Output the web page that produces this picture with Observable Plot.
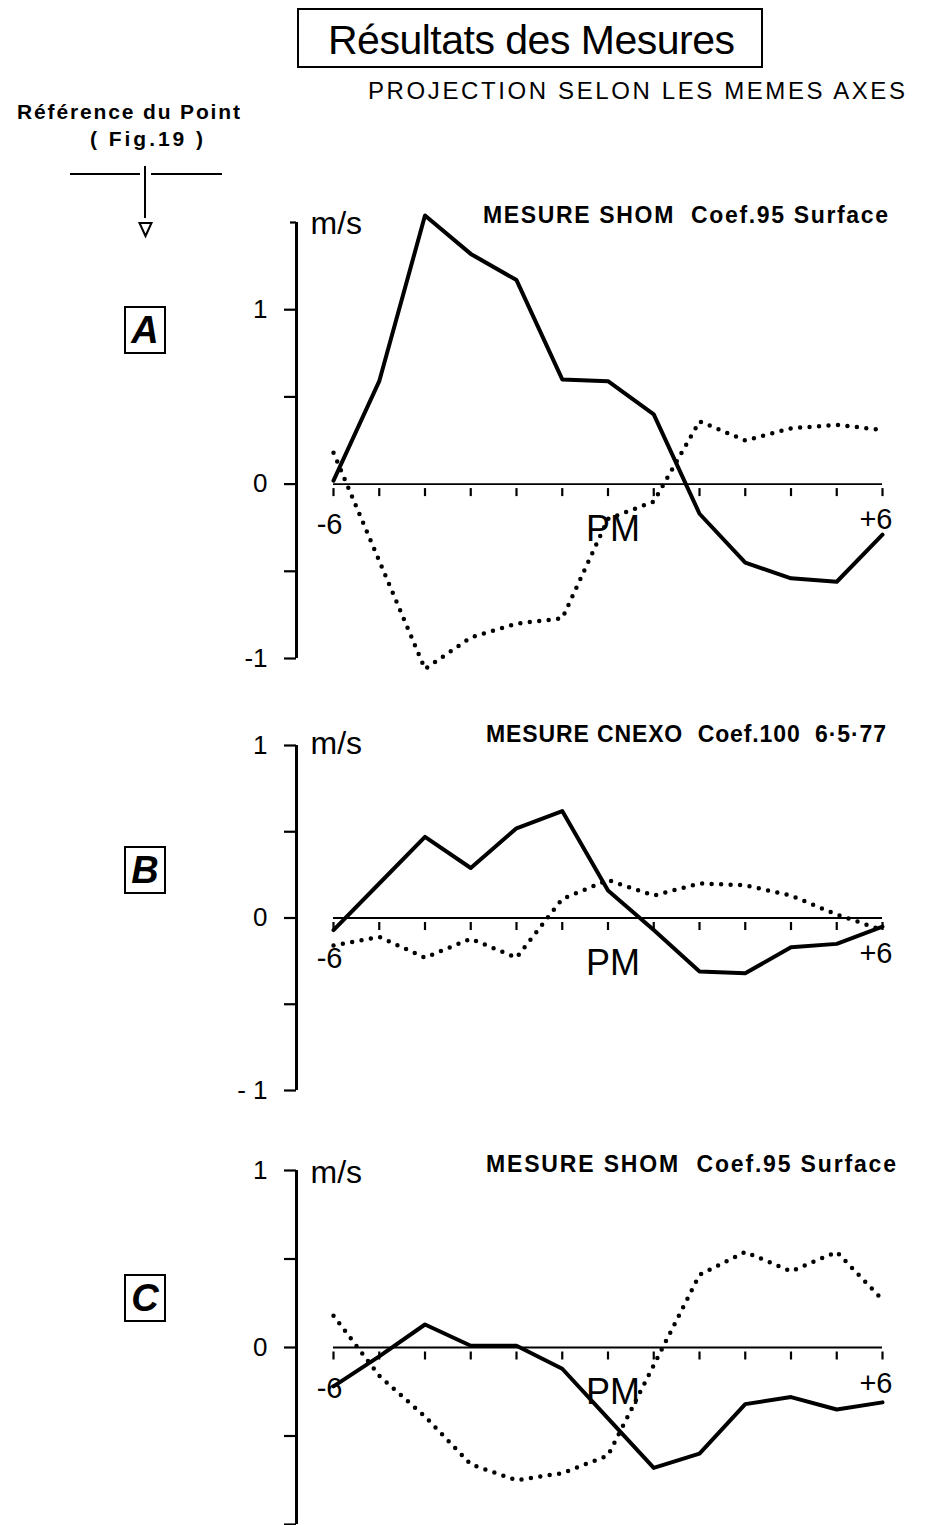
<!DOCTYPE html>
<html><head><meta charset="utf-8">
<script src="https://cdn.jsdelivr.net/npm/d3@7"></script>
<script src="https://cdn.jsdelivr.net/npm/@observablehq/plot@0.6"></script>
<style>
body{margin:0;background:#fff;}
#page{position:relative;width:925px;height:1525px;overflow:hidden;background:#fff;font-family:"Liberation Sans",Arial,sans-serif;color:#000;}
.t{position:absolute;white-space:pre;}
.panel{position:absolute;left:0;}
.lbl{position:absolute;border:2.5px solid #000;display:flex;align-items:center;justify-content:center;font-weight:bold;font-style:italic;font-size:38px;box-sizing:border-box;}
</style></head><body><div id="page"></div>
<script>
// ---- data (hours relative to high water, m/s) ----
const hours = [-6, -5, -4, -3, -2, -1, 0, 1, 2, 3, 4, 5, 6];
const aSolid  = [0.02, 0.59, 1.54, 1.32, 1.17, 0.60, 0.59, 0.40, -0.17, -0.45, -0.54, -0.56, -0.29];
const aDotted = [0.18, -0.44, -1.06, -0.88, -0.80, -0.77, -0.20, -0.10, 0.36, 0.25, 0.32, 0.34, 0.31];
const bSolid  = [-0.07, 0.20, 0.47, 0.29, 0.52, 0.62, 0.16, -0.07, -0.31, -0.32, -0.17, -0.15, -0.05];
const bDotted = [-0.16, -0.11, -0.23, -0.12, -0.23, 0.11, 0.22, 0.13, 0.20, 0.19, 0.13, 0.02, -0.07];
const cSolid  = [-0.22, -0.05, 0.13, 0.01, 0.01, -0.12, -0.40, -0.68, -0.60, -0.32, -0.28, -0.35, -0.31];
const cDotted = [0.18, -0.16, -0.39, -0.66, -0.75, -0.71, -0.61, -0.10, 0.41, 0.54, 0.43, 0.54, 0.27];

const yTicks = [-1, -0.5, 0, 0.5, 1];
const aYLabels = ["-1", "", "0", "", "1"];
const bYLabels = ["- 1", "", "0", "", "1"];
const cYLabels = ["", "", "0", "", "1"];
const xTickLabels = [{h: -6, label: "-6"}, {h: 0, label: "PM"}, {h: 6, label: "+6"}];

const captions = {
  A: "MESURE SHOM  Coef.95 Surface",
  B: "MESURE CNEXO  Coef.100  6·5·77",
  C: "MESURE SHOM  Coef.95 Surface"
};

const page = document.getElementById("page");

function txt(s, o) {
  const d = document.createElement("div");
  d.className = "t";
  d.textContent = s;
  d.style.fontSize = o.fs + "px";
  d.style.lineHeight = o.fs + "px";
  d.style.fontWeight = o.weight || "normal";
  if (o.fam) d.style.fontFamily = o.fam;
  d.style.top = (o.base - 0.8465 * o.fs) + "px";
  d.style.left = "0px";
  page.appendChild(d);
  let w = d.getBoundingClientRect().width;
  if (o.w) {
    const n = [...s].length;
    const ls = (o.w - w) / (n - 1);
    d.style.letterSpacing = ls + "px";
    w = o.w;
  }
  if (o.x != null) d.style.left = o.x + "px";
  else if (o.right != null) d.style.left = (o.right - w) + "px";
  else if (o.center != null) d.style.left = (o.center - w / 2) + "px";
  return d;
}

// Title box
const box = document.createElement("div");
box.style.cssText = "position:absolute;left:297px;top:8px;width:466px;height:60px;border:2px solid #000;box-sizing:border-box;";
page.appendChild(box);
txt("Résultats des Mesures", {x: 328, base: 55, fs: 41, w: 407});
txt("PROJECTION SELON LES MEMES AXES", {x: 368, base: 99, fs: 24, w: 537});
txt("Référence du Point", {x: 17, base: 119, fs: 21, weight: "bold", w: 223});
txt("( Fig.19 )", {x: 90, base: 146, fs: 21, weight: "bold", w: 113});

// reference arrow (decoration)
const ns = "http://www.w3.org/2000/svg";
const deco = document.createElementNS(ns, "svg");
deco.setAttribute("width", 260); deco.setAttribute("height", 260);
deco.style.cssText = "position:absolute;left:0;top:0;";
deco.innerHTML = '<g stroke="#000" fill="none" stroke-width="2">' +
  '<line x1="70" y1="174" x2="140" y2="174"/><line x1="151" y1="174" x2="222" y2="174"/>' +
  '<line x1="145" y1="166" x2="145" y2="218"/>' +
  '<polygon points="139.5,223 151.5,223 145.5,236" stroke-width="2"/></g>';
page.appendChild(deco);

const tickSym = {draw(ctx) { ctx.moveTo(0, -4); ctx.lineTo(0, 4); }};

function panel(cfg) {
  const data = hours.map((h, i) => ({h, solid: cfg.solid[i], dotted: cfg.dotted[i]}));
  const marks = [
    Plot.ruleX([hours[0]], {x: d => d, y1: cfg.yDomain[0], y2: cfg.yDomain[1], dx: -37, strokeWidth: 3}),
    Plot.axisY({ticks: yTicks, tickSize: 12, tickPadding: 17, dx: -37, strokeWidth: 2.2,
      tickFormat: d => cfg.yLabels[yTicks.indexOf(d)], fontSize: 26, label: null}),
    Plot.ruleY([0], {x1: hours[0], x2: hours[hours.length - 1], strokeWidth: 1.8}),
    Plot.dot(hours, {x: d => d, y: 0, symbol: tickSym, stroke: "black", strokeWidth: 2.2, fill: "none", dy: 8}),
    Plot.line(data, {x: "h", y: "dotted", stroke: "black", strokeWidth: 4.5, strokeDasharray: "0 9.5", strokeLinecap: "round"}),
    Plot.line(data, {x: "h", y: "solid", stroke: "black", strokeWidth: 4, strokeLinejoin: "round"}),
    Plot.text(xTickLabels.filter(d => d.h < 0), {x: "h", y: 0, text: "label", textAnchor: "end", dx: 9, dy: 41, fontSize: 29, lineAnchor: "middle"}),
    Plot.text(xTickLabels.filter(d => d.h > 0), {x: "h", y: 0, text: "label", textAnchor: "end", dx: 10, dy: 36, fontSize: 29, lineAnchor: "middle"}),
    Plot.text(xTickLabels.filter(d => d.h === 0), {x: "h", y: 0, text: "label", textAnchor: "middle", dx: 5, dy: 45, fontSize: 36, lineAnchor: "middle"}),
    Plot.text(["m/s"], {frameAnchor: "top-left", text: d => d, textAnchor: "start", lineAnchor: "bottom", dx: -23, dy: cfg.msDy, fontSize: 32})
  ];
  if (cfg.topTick != null) {
    marks.push(Plot.axisY({ticks: [cfg.topTick], tickSize: 6, dx: -37, strokeWidth: 2.2, tickFormat: () => "", label: null}));
  }
  const svg = Plot.plot({
    width: 925, height: cfg.height,
    marginLeft: 333, marginRight: 43, marginTop: cfg.marginTop, marginBottom: cfg.marginBottom,
    x: {domain: [hours[0], hours[hours.length - 1]], axis: null},
    y: {domain: cfg.yDomain, axis: null},
    style: {fontFamily: "Liberation Sans, Arial, sans-serif", fontSize: "24px", background: "transparent", overflow: "visible"},
    marks
  });
  svg.classList.add("panel");
  svg.style.top = cfg.top + "px";
  page.appendChild(svg);

  // panel letter box
  const l = document.createElement("div");
  l.className = "lbl";
  l.textContent = cfg.name;
  l.style.left = "124px"; l.style.top = cfg.boxTop + "px";
  l.style.width = "42px"; l.style.height = "48px";
  page.appendChild(l);

  txt(captions[cfg.name], {x: cfg.capX, base: cfg.capBase, fs: 23, weight: "bold", w: cfg.capW});
}

panel({name: "A", top: 190, height: 500, marginTop: 32, marginBottom: 32, yDomain: [-1, 1.5], topTick: 1.5,
  yLabels: aYLabels, solid: aSolid, dotted: aDotted, msDy: 11, boxTop: 306, capX: 483, capBase: 223, capW: 405});
panel({name: "B", top: 720, height: 400, marginTop: 25, marginBottom: 30, yDomain: [-1, 1],
  yLabels: bYLabels, solid: bSolid, dotted: bDotted, msDy: 8, boxTop: 846, capX: 486, capBase: 742, capW: 400});
panel({name: "C", top: 1150, height: 375, marginTop: 20, marginBottom: 1, yDomain: [-1, 1],
  yLabels: cYLabels, solid: cSolid, dotted: cDotted, msDy: 12, boxTop: 1274, capX: 486, capBase: 1172, capW: 410});
</script></body></html>
